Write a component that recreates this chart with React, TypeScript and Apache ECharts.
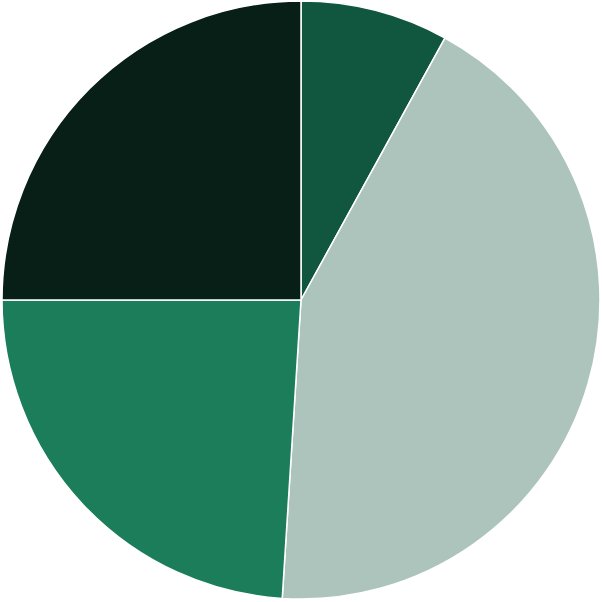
import React, { useEffect, useRef } from "react";
import * as echarts from "echarts";

const categories = ["A", "B", "C", "D"];
const values = [8, 43, 24, 25];
const colors = ["#115740", "#adc4bc", "#1b7d5a", "#071f17"];

export default function App() {
  const ref = useRef<HTMLDivElement>(null);
  useEffect(() => {
    document.body.style.margin = "0";
    const chart = echarts.init(ref.current!, null, { renderer: "svg" });
    chart.setOption({
      animation: false,
      series: [
        {
          type: "pie",
          center: [301, 300],
          radius: 299,
          startAngle: 90,
          clockwise: true,
          label: { show: false },
          labelLine: { show: false },
          itemStyle: { borderColor: "#ffffff", borderWidth: 1.5 },
          data: categories.map((c, i) => ({
            name: c,
            value: values[i],
            itemStyle: { color: colors[i] },
          })),
        },
      ],
    });
    return () => chart.dispose();
  }, []);
  return (
    <div
      ref={ref}
      style={{ position: "absolute", left: 0, top: 0, width: 602, height: 602 }}
    />
  );
}
